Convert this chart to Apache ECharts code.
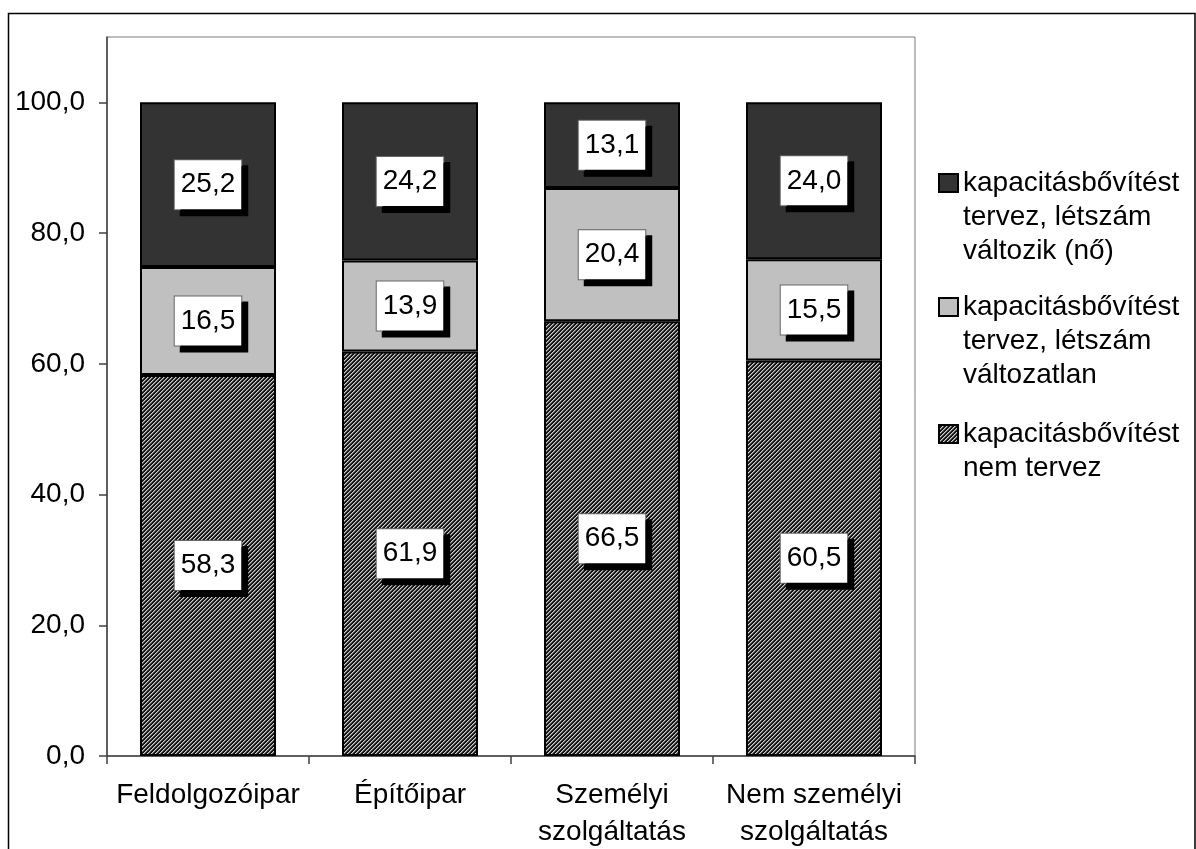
<!DOCTYPE html>
<html><head><meta charset="utf-8">
<script src="https://cdn.jsdelivr.net/npm/echarts@6/dist/echarts.min.js"></script>
<style>html,body{margin:0;padding:0;background:#fff}#c{width:1196px;height:849px}</style>
</head><body><div id="c"></div>
<script>
const categories = ['Feldolgozóipar', 'Építőipar', 'Személyi\nszolgáltatás', 'Nem személyi\nszolgáltatás'];
const seriesNames = ['kapacitásbővítést nem tervez', 'kapacitásbővítést tervez, létszám változatlan', 'kapacitásbővítést tervez, létszám változik (nő)'];
const legendLabels = ['kapacitásbővítést\nnem tervez', 'kapacitásbővítést\ntervez, létszám\nváltozatlan', 'kapacitásbővítést\ntervez, létszám\nváltozik (nő)'];
const nemTervez = [58.3, 61.9, 66.5, 60.5];
const valtozatlan = [16.5, 13.9, 20.4, 15.5];
const valtozik = [25.2, 24.2, 13.1, 24.0];
const yTicks = [0, 20, 40, 60, 80, 100];

const F = '"Liberation Sans", Arial, Helvetica, sans-serif';

function hatch() {
  const s = 8, c = document.createElement('canvas');
  c.width = s; c.height = s;
  const g = c.getContext('2d');
  const img = g.createImageData(s, s);
  for (let y = 0; y < s; y++) for (let x = 0; x < s; x++) {
    const k = (x + y) % 4;
    const v = k === 0 ? 205 : (k === 1 ? 110 : 20);
    const i = (y * s + x) * 4;
    img.data[i] = v; img.data[i + 1] = v; img.data[i + 2] = v; img.data[i + 3] = 255;
  }
  g.putImageData(img, 0, 0);
  return c;
}

const fmt = v => v.toFixed(1).replace('.', ',');
const lbl = {
  show: true, position: 'inside', formatter: p => fmt(p.value),
  color: '#000', fontSize: 28, fontFamily: F, lineHeight: 30,
  backgroundColor: '#fff', borderColor: '#666', borderWidth: 1,
  padding: [10, 6, 9, 6],
  shadowColor: '#000', shadowOffsetX: 6, shadowOffsetY: 6, shadowBlur: 0,
  textBorderWidth: 0
};

// Put the icon next to the first line: pad with blank lines so that line 1 is the vertical middle.
function legendText(name) {
  const t = legendLabels[seriesNames.indexOf(name)];
  const n = t.split('\n').length;
  return '\n'.repeat(n - 1) + t;
}

const chart = echarts.init(document.getElementById('c'), null, {renderer: 'canvas'});
const legendBase = {
  orient: 'vertical', padding: 0, itemWidth: 19, itemHeight: 18, itemGap: 0,
  icon: 'rect', selectedMode: false, left: 938,
  textStyle: {fontSize: 28, lineHeight: 34, fontFamily: F, color: '#000'},
  formatter: legendText
};
const option = {
  animation: false,
  backgroundColor: '#fff',
  grid: {left: 107, top: 37, right: 281, bottom: 93, show: true, borderColor: '#7a7a7a', borderWidth: 1,
         containLabel: false, outerBoundsMode: 'none'},
  xAxis: {
    type: 'category', data: categories,
    axisLine: {show: true, lineStyle: {color: '#404040', width: 1.5}},
    axisTick: {show: true, interval: 0, length: 8, lineStyle: {color: '#404040', width: 1.5}},
    axisLabel: {interval: 0, fontSize: 28, fontFamily: F, color: '#000', margin: 21, lineHeight: 37},
    splitLine: {show: false}
  },
  yAxis: {
    type: 'value', min: 0, max: 110, interval: 20,
    axisLine: {show: true, lineStyle: {color: '#404040', width: 1.5}},
    axisTick: {show: true, length: 8, customValues: yTicks, lineStyle: {color: '#404040', width: 1.5}},
    axisLabel: {fontSize: 28, fontFamily: F, color: '#000', margin: 22, customValues: yTicks, formatter: v => fmt(v)},
    splitLine: {show: false}
  },
  legend: [
    Object.assign({}, legendBase, {top: 98, data: [seriesNames[2]]}),
    Object.assign({}, legendBase, {top: 222, data: [seriesNames[1]]}),
    Object.assign({}, legendBase, {top: 383, data: [seriesNames[0]]})
  ],
  graphic: [{
    type: 'rect', silent: true, z: -10,
    shape: {x: 8.5, y: 13.5, width: 1186.5, height: 900},
    style: {fill: 'none', stroke: '#000', lineWidth: 1.5}
  }],
  series: [
    {name: seriesNames[0], type: 'bar', stack: 's', data: nemTervez, barWidth: 136,
     itemStyle: {color: {image: hatch(), repeat: 'repeat'}, borderColor: '#000', borderWidth: 2}, label: lbl},
    {name: seriesNames[1], type: 'bar', stack: 's', data: valtozatlan, barWidth: 136,
     itemStyle: {color: '#c0c0c0', borderColor: '#000', borderWidth: 2}, label: lbl},
    {name: seriesNames[2], type: 'bar', stack: 's', data: valtozik, barWidth: 136,
     itemStyle: {color: '#333333', borderColor: '#000', borderWidth: 2}, label: lbl}
  ]
};
chart.setOption(option);
</script>
</body></html>
